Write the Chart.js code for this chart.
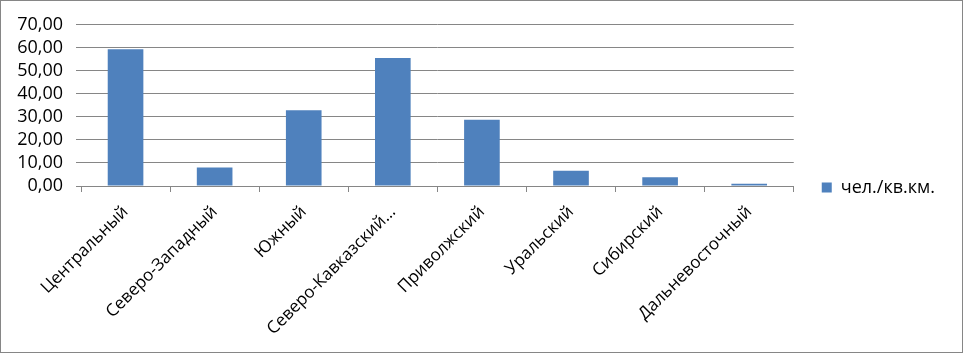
<!DOCTYPE html>
<html>
<head>
<meta charset="utf-8">
<script src="https://cdn.jsdelivr.net/npm/chart.js@4"></script>
<style>
    html, body { margin: 0; padding: 0; background: #fff; }
    #wrap {
        width: 963px;
        height: 353px;
        box-sizing: border-box;
        border: 1px solid #868686;
        position: relative;
    }
</style>
</head>
<body>
<div id="wrap"><canvas id="densityChart" width="961" height="351"></canvas></div>
<script>
const regions = [
    "Центральный",
    "Северо-Западный",
    "Южный",
    "Северо-Кавказский…",
    "Приволжский",
    "Уральский",
    "Сибирский",
    "Дальневосточный"
];
const density = [59.4, 8.0, 32.9, 55.6, 28.8, 6.6, 3.8, 1.0];
const seriesName = "чел./кв.км.";
const yMax = 70;
const yStep = 10;

const axisFont = { family: "Open Sans", size: 18 };
const catFont = { family: "Open Sans", size: 17 };
const gridGray = "#868686";

const ctx = document.getElementById("densityChart").getContext("2d");

new Chart(ctx, {
    type: "bar",
    data: {
        labels: regions,
        datasets: [
            {
                label: seriesName,
                data: density,
                backgroundColor: "#4f81bd",
                borderWidth: 0,
                barPercentage: 0.4,
                categoryPercentage: 1.0,
            }
        ],
    },
    options: {
        responsive: false,
        animation: false,
        layout: { padding: { top: 22, right: 17, bottom: 0, left: 0 } },
        plugins: {
            legend: {
                position: "right",
                labels: {
                    boxWidth: 10,
                    boxHeight: 10,
                    padding: 10,
                    color: "#000",
                    font: axisFont,
                },
            },
            tooltip: { enabled: false },
        },
        scales: {
            x: {
                offset: true,
                grid: {
                    offset: true,
                    drawOnChartArea: false,
                    color: gridGray,
                    tickLength: 6,
                },
                border: { display: false },
                ticks: {
                    color: "#000",
                    font: catFont,
                    minRotation: 45,
                    maxRotation: 45,
                    padding: 10,
                    autoSkip: false,
                },
                afterFit: s => { s.height = 166; },
            },
            y: {
                min: 0,
                max: yMax,
                grid: { color: gridGray, tickLength: 5 },
                border: { display: false },
                ticks: {
                    stepSize: yStep,
                    autoSkip: false,
                    color: "#000",
                    font: axisFont,
                    padding: 13,
                    callback: v => v.toFixed(2).replace(".", ","),
                },
                afterFit: s => { s.width = 80; },
            },
            // empty spacer between plot area and legend
            gap: {
                position: "right",
                display: true,
                grid: { display: false },
                border: { display: false },
                ticks: { display: false },
                afterFit: s => { s.width = 18; },
            },
        },
    },
});
</script>
</body>
</html>
